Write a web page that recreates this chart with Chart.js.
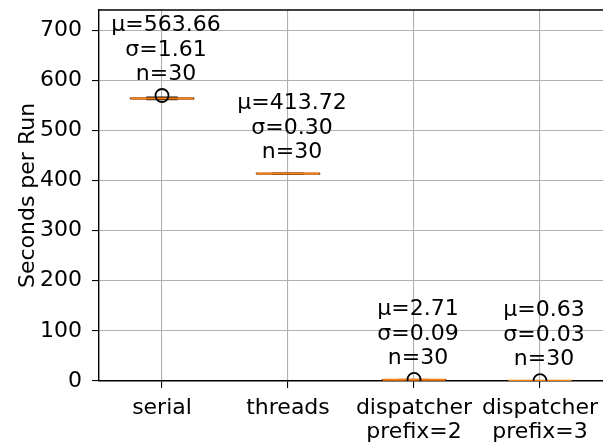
<!DOCTYPE html>
<html>
<head>
<meta charset="utf-8">
<script src="https://cdn.jsdelivr.net/npm/chart.js@4"></script>
<style>
  html, body { margin: 0; padding: 0; background: #fff; }
  canvas { display: block; }
</style>
</head>
<body>
<canvas id="grafico" width="603" height="444"></canvas>
<script>
// categories and per-run stats
const categories = [['serial'], ['threads'], ['dispatcher', 'prefix=2'], ['dispatcher', 'prefix=3']];
const means = [563.66, 413.72, 2.71, 0.63];
const stds = [1.61, 0.30, 0.09, 0.03];
const counts = [30, 30, 30, 30];

// box stats (estimated)
const q1 = [563.0, 413.5, 2.65, 0.61];
const medians = [563.6, 413.7, 2.70, 0.62];
const q3 = [564.3, 413.9, 2.76, 0.65];
const whiskerLow = [561.5, 413.2, 2.56, 0.58];
const whiskerHigh = [566.0, 414.3, 2.86, 0.68];
const outliers = [[569.5], [], [3.1], [0.72]];

const yTicks = [0, 100, 200, 300, 400, 500, 600, 700];

const FONT = 'DejaVu Sans';
const FS = 22;

function seg(points, color, width) {
    return {
        data: points.map(p => ({ x: p[0], y: p[1] })),
        showLine: true,
        borderColor: color,
        borderWidth: width,
        pointRadius: 0,
        clip: 0
    };
}

let datasets = [];
categories.forEach((c, i) => {
    const x = i + 1;
    // whiskers
    datasets.push(seg([[x, q1[i]], [x, whiskerLow[i]]], '#000', 1.4));
    datasets.push(seg([[x, q3[i]], [x, whiskerHigh[i]]], '#000', 1.4));
    // caps
    datasets.push(seg([[x - 0.125, whiskerLow[i]], [x + 0.125, whiskerLow[i]]], '#000', 1.4));
    datasets.push(seg([[x - 0.125, whiskerHigh[i]], [x + 0.125, whiskerHigh[i]]], '#000', 1.4));
    // box
    datasets.push(seg([[x - 0.25, q1[i]], [x + 0.25, q1[i]], [x + 0.25, q3[i]], [x - 0.25, q3[i]], [x - 0.25, q1[i]]], '#000', 1.4));
    // median
    datasets.push(seg([[x - 0.25, medians[i]], [x + 0.25, medians[i]]], '#ff7f0e', 2));
});
// fliers
datasets.push({
    data: outliers.flatMap((arr, i) => arr.map(v => ({ x: i + 1, y: v }))),
    pointStyle: 'circle',
    pointRadius: 6.5,
    pointBorderWidth: 1.8,
    pointBorderColor: '#000',
    pointBackgroundColor: 'rgba(0,0,0,0)',
    showLine: false,
    clip: 0
});
// chart.js paints the first dataset on top, so flip to keep matplotlib's order
datasets = datasets.reverse();

const statLabels = {
    id: 'statLabels',
    afterDatasetsDraw(chart) {
        const ctx = chart.ctx;
        const xs = chart.scales.x, ys = chart.scales.y;
        ctx.save();
        ctx.font = FS + 'px "' + FONT + '"';
        ctx.fillStyle = '#000';
        ctx.textAlign = 'center';
        ctx.textBaseline = 'middle';
        categories.forEach((c, i) => {
            const top = Math.max(whiskerHigh[i], ...outliers[i]);
            const px = xs.getPixelForValue(i + 1) + 4;
            const yc = ys.getPixelForValue(top) - 21;
            ctx.fillText('μ=' + means[i].toFixed(2), px, yc - 49);
            ctx.fillText('σ=' + stds[i].toFixed(2), px, yc - 24.5);
            ctx.fillText('n=' + counts[i], px, yc);
        });
        ctx.restore();
    },
    afterDraw(chart) {
        const a = chart.chartArea, ctx = chart.ctx;
        ctx.save();
        ctx.strokeStyle = '#000';
        ctx.lineWidth = 1.4;
        ctx.beginPath();
        ctx.moveTo(a.left, a.top);
        ctx.lineTo(a.right, a.top);
        ctx.stroke();
        ctx.restore();
    }
};

function noPad(s) {
    s.paddingTop = 0; s.paddingBottom = 0; s.paddingLeft = 0; s.paddingRight = 0;
}

Chart.defaults.font.family = FONT;
Chart.defaults.color = '#000';

new Chart(document.getElementById('grafico').getContext('2d'), {
    type: 'scatter',
    data: { datasets: datasets },
    options: {
        responsive: false,
        animation: false,
        devicePixelRatio: 1,
        layout: { autoPadding: false, padding: { top: 10, right: 0, left: 0, bottom: 0 } },
        plugins: { legend: { display: false }, tooltip: { enabled: false } },
        scales: {
            x: {
                type: 'linear',
                min: 0.5,
                max: 4.5,
                afterBuildTicks: s => { s.ticks = categories.map((c, i) => ({ value: i + 1 })); },
                afterFit: s => { s.height = 63; noPad(s); },
                ticks: {
                    callback: v => categories[v - 1],
                    font: { size: FS, lineHeight: 1.1 },
                    padding: 8,
                    maxRotation: 0,
                    autoSkip: false
                },
                grid: { color: '#b0b0b0', lineWidth: 1.1, tickColor: '#000', tickLength: 7 },
                border: { color: '#000', width: 1.4 }
            },
            y: {
                min: 0,
                max: 740,
                afterBuildTicks: s => { s.ticks = yTicks.map(v => ({ value: v })); },
                afterFit: s => { s.width = 99; noPad(s); },
                ticks: { font: { size: FS }, padding: 10 },
                grid: { color: '#b0b0b0', lineWidth: 1.1, tickColor: '#000', tickLength: 7 },
                border: { color: '#000', width: 1.4 },
                title: {
                    display: true,
                    text: 'Seconds per Run',
                    font: { size: FS },
                    padding: { top: 15, bottom: 0 }
                }
            }
        }
    },
    plugins: [statLabels]
});
</script>
</body>
</html>
